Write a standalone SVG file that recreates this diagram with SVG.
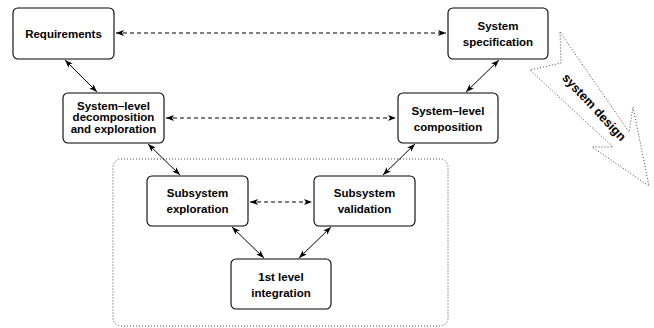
<svg xmlns="http://www.w3.org/2000/svg" width="654" height="328" viewBox="0 0 654 328">
<defs>
<marker id="ah" viewBox="0 0 8 6" refX="8" refY="3" markerWidth="8" markerHeight="6" markerUnits="userSpaceOnUse" orient="auto-start-reverse">
<path d="M0,0 L8,3 L0,6 L2,3 z" fill="#000"/>
</marker>
</defs>
<style>
.box{fill:#fff;stroke:#000;stroke-width:1.1}
.t{font-family:"Liberation Sans",Arial,sans-serif;font-weight:bold;font-size:11.5px;text-anchor:middle;fill:#000}
.c{fill:none;stroke:#000;stroke-width:1;marker-start:url(#ah);marker-end:url(#ah)}
.d{stroke-dasharray:4,3}
.dot{fill:none;stroke:#444;stroke-width:1;stroke-dasharray:1,2}
</style>
<rect class="dot" x="113" y="159" width="335" height="167" rx="8"/>
<g id="sysdesign">
<polygon class="dot" points="560,32 629,132 633,107 649,186 592,147 613,147 530,70 561,63"/>
<text class="t" style="font-size:12.5px" x="591" y="110" transform="rotate(47 591 110)">system design</text>
</g>
<g id="connectors">
<line class="c d" x1="116" y1="33" x2="446" y2="33"/>
<line class="c d" x1="166" y1="118" x2="396" y2="118"/>
<line class="c d" x1="250" y1="202" x2="312" y2="202"/>
<line class="c" x1="65" y1="60" x2="97" y2="92"/>
<line class="c" x1="148" y1="144" x2="180" y2="175"/>
<line class="c" x1="499" y1="60" x2="466" y2="92"/>
<line class="c" x1="415" y1="144" x2="383" y2="175"/>
<line class="c" x1="232" y1="227" x2="264" y2="258"/>
<line class="c" x1="331" y1="227" x2="299" y2="258"/>
</g>
<g id="requirements">
<rect class="box" x="13" y="8" width="101" height="51" rx="5"/>
<text class="t" x="63.5" y="37.5">Requirements</text>
</g>
<g id="spec">
<rect class="box" x="448" y="8" width="100" height="51" rx="5"/>
<text class="t" x="498" y="30">System</text>
<text class="t" x="498" y="46">specification</text>
</g>
<g id="decomp">
<rect class="box" x="63" y="93" width="101" height="50" rx="5"/>
<text class="t" x="113.5" y="109.5">System–level</text>
<text class="t" x="113.5" y="121">decomposition</text>
<text class="t" x="113.5" y="132.5">and exploration</text>
</g>
<g id="comp">
<rect class="box" x="398" y="93" width="100" height="50" rx="5"/>
<text class="t" x="448" y="115">System–level</text>
<text class="t" x="448" y="131">composition</text>
</g>
<g id="subexp">
<rect class="box" x="147" y="176" width="101" height="50" rx="5"/>
<text class="t" x="197.5" y="197">Subsystem</text>
<text class="t" x="197.5" y="213">exploration</text>
</g>
<g id="subval">
<rect class="box" x="314" y="176" width="101" height="50" rx="5"/>
<text class="t" x="364.5" y="197">Subsystem</text>
<text class="t" x="364.5" y="213">validation</text>
</g>
<g id="integration">
<rect class="box" x="231" y="259" width="100" height="50" rx="5"/>
<text class="t" x="281" y="281">1st level</text>
<text class="t" x="281" y="297">integration</text>
</g>
</svg>
